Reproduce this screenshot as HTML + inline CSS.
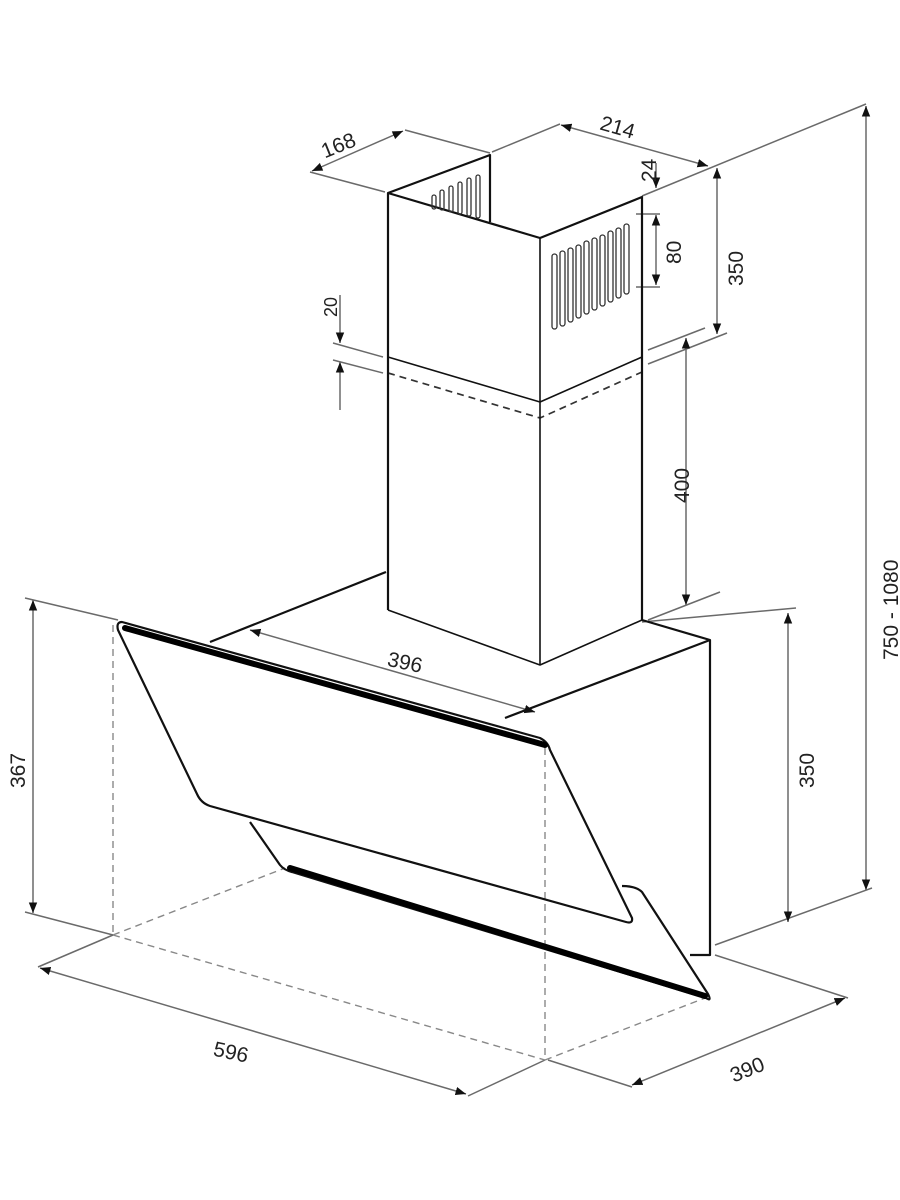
<!DOCTYPE html>
<html><head><meta charset="utf-8"><style>
html,body{margin:0;padding:0;background:#fff;}
svg{display:block}
text{font-family:"Liberation Sans",sans-serif;font-size:21px;fill:#222;}
</style></head><body>
<svg width="900" height="1200" viewBox="0 0 900 1200" xmlns="http://www.w3.org/2000/svg">
<defs>
<marker id="a" viewBox="0 0 10 10" refX="10" refY="5" markerWidth="7" markerHeight="7" orient="auto-start-reverse"><path d="M0,1 L10,5 L0,9 z" fill="#111"/></marker>
</defs>
<g stroke="#6a6a6a" stroke-width="1.5" fill="none">
<line x1="310" y1="172" x2="385" y2="192"/>
<line x1="405" y1="130" x2="490" y2="153"/>
<line x1="312" y1="171" x2="403" y2="131" marker-start="url(#a)" marker-end="url(#a)"/>
<line x1="492" y1="152" x2="560" y2="124"/>
<line x1="642" y1="196" x2="866" y2="104"/>
<line x1="561" y1="125" x2="708" y2="166" marker-start="url(#a)" marker-end="url(#a)"/>
<line x1="656" y1="163" x2="656" y2="188" marker-end="url(#a)"/>
<line x1="656" y1="215" x2="656" y2="285" marker-start="url(#a)" marker-end="url(#a)"/>
<line x1="636" y1="214" x2="660" y2="214"/>
<line x1="636" y1="287" x2="660" y2="287"/>
<line x1="717" y1="168" x2="717" y2="334" marker-start="url(#a)" marker-end="url(#a)"/>
<line x1="648" y1="364" x2="727" y2="333"/>
<line x1="648" y1="350" x2="705" y2="328"/>
<line x1="686" y1="338" x2="686" y2="605" marker-start="url(#a)" marker-end="url(#a)"/>
<line x1="648" y1="620" x2="720" y2="592"/>
<line x1="340" y1="295" x2="340" y2="343" marker-end="url(#a)"/>
<line x1="340" y1="410" x2="340" y2="362" marker-end="url(#a)"/>
<line x1="333" y1="343" x2="383" y2="357"/>
<line x1="333" y1="360" x2="383" y2="373"/>
<line x1="866" y1="106" x2="866" y2="890" marker-start="url(#a)" marker-end="url(#a)"/>
<line x1="715" y1="945" x2="872" y2="888"/>
<line x1="788" y1="613" x2="788" y2="922" marker-start="url(#a)" marker-end="url(#a)"/>
<line x1="642" y1="622" x2="796" y2="608"/>
<line x1="33" y1="600" x2="33" y2="913" marker-start="url(#a)" marker-end="url(#a)"/>
<line x1="25" y1="598" x2="118" y2="620"/>
<line x1="25" y1="912" x2="113" y2="935"/>
<line x1="113" y1="935" x2="38" y2="967"/>
<line x1="545" y1="1060" x2="468" y2="1096"/>
<line x1="40" y1="968" x2="466" y2="1094" marker-start="url(#a)" marker-end="url(#a)"/>
<line x1="548" y1="1060" x2="632" y2="1087"/>
<line x1="715" y1="955" x2="848" y2="998"/>
<line x1="632" y1="1085" x2="845" y2="998" marker-start="url(#a)" marker-end="url(#a)"/>
<line x1="250" y1="630" x2="535" y2="712" marker-start="url(#a)" marker-end="url(#a)"/>
</g>
<g stroke="#888" stroke-width="1.4" fill="none" stroke-dasharray="7,5">
<line x1="113" y1="625" x2="113" y2="935"/>
<line x1="545" y1="748" x2="545" y2="1060"/>
<line x1="113" y1="935" x2="545" y2="1060"/>
<line x1="113" y1="935" x2="285" y2="868"/>
<line x1="545" y1="1060" x2="705" y2="998"/>
</g>
<g stroke="#333" stroke-width="1.7" fill="none" stroke-dasharray="7,5">
<polyline points="388,373 540,418 642,372"/>
</g>
<g stroke="#111" stroke-width="2.2" fill="none" stroke-linejoin="round">
<polyline points="388,610 388,193 490,155 490,222"/>
<line x1="388" y1="193" x2="540" y2="238"/>
<polyline points="540,238 642,197 642,620"/>
<line x1="540" y1="238" x2="540" y2="665" stroke-width="1.6"/>
<polyline points="388,357 540,402 642,357" stroke-width="1.6"/>
<polyline points="388,610 540,665 642,620" stroke-width="1.6"/>
<line x1="386" y1="572" x2="210" y2="642"/>
<polyline points="642,620 710,640 710,955 690,955"/>
<line x1="710" y1="640" x2="505" y2="718"/>
<path d="M122,622 L540,738 Q548,742 550,750 L632,918 Q633,924 626,922 L210,806 Q201,803 197,794 L118,630 Q116,622 122,622 Z"/>
<path d="M250,822 L280,865 Q284,870 292,872 L706,998 Q712,1002 708,994 L642,892 Q636,886 622,886"/>
</g>
<g stroke="#000" stroke-width="6" fill="none" stroke-linecap="round">
<line x1="125" y1="628" x2="545" y2="745"/>
<line x1="290" y1="868" x2="705" y2="996"/>
</g>
<g stroke="#333" stroke-width="1.3" fill="none">
<rect x="552" y="254" width="5" height="75" rx="2.5"/>
<rect x="560" y="251" width="5" height="75" rx="2.5"/>
<rect x="568" y="248" width="5" height="74" rx="2.5"/>
<rect x="576" y="245" width="5" height="73" rx="2.5"/>
<rect x="584" y="241" width="5" height="73" rx="2.5"/>
<rect x="592" y="238" width="5" height="72" rx="2.5"/>
<rect x="600" y="235" width="5" height="71" rx="2.5"/>
<rect x="608" y="231" width="5" height="71" rx="2.5"/>
<rect x="616" y="228" width="5" height="70" rx="2.5"/>
<rect x="624" y="224" width="5" height="70" rx="2.5"/>
<rect x="432" y="195" width="4" height="14" rx="2"/>
<rect x="440" y="190" width="4" height="20" rx="2"/>
<rect x="449" y="186" width="4" height="26" rx="2"/>
<rect x="458" y="182" width="4" height="32" rx="2"/>
<rect x="467" y="178" width="4" height="38" rx="2"/>
<rect x="476" y="175" width="4" height="43" rx="2"/>
</g>
<text x="322" y="152" transform="rotate(-22 340 148)">168</text>
<text x="600" y="135" transform="rotate(16 620 128)">214</text>
<text x="0" y="0" transform="translate(656,182) rotate(-90)">24</text>
<text x="0" y="0" transform="translate(681,264) rotate(-90)">80</text>
<text x="0" y="0" transform="translate(743,286) rotate(-90)">350</text>
<text x="0" y="0" transform="translate(337,317) rotate(-90)" style="font-size:18px">20</text>
<text x="0" y="0" transform="translate(689,503) rotate(-90)">400</text>
<text x="0" y="0" transform="translate(898,660) rotate(-90)">750 - 1080</text>
<text x="0" y="0" transform="translate(814,788) rotate(-90)">350</text>
<text x="0" y="0" transform="translate(25,788) rotate(-90)">367</text>
<text x="388" y="670" transform="rotate(12 408 660)">396</text>
<text x="214" y="1060" transform="rotate(12 235 1050)">596</text>
<text x="728" y="1076" transform="rotate(-22 748 1065)">390</text>
</svg>
</body></html>
